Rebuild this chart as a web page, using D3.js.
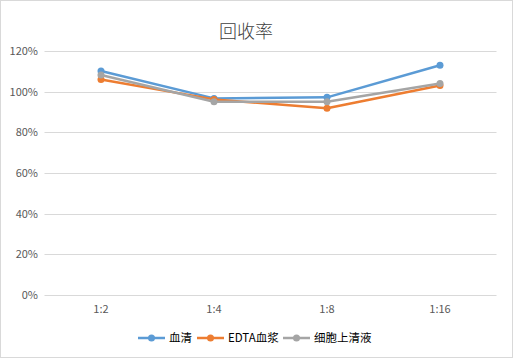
<!DOCTYPE html>
<html><head><meta charset="utf-8">
<script src="https://cdn.jsdelivr.net/npm/d3@7"></script>
<style>body{margin:0;background:#fff}svg{display:block}</style>
</head><body><svg id="c" width="513" height="358"></svg>
<script>
const categories = ["1:2","1:4","1:8","1:16"];
const seriesNames = ["血清","EDTA血浆","细胞上清液"];
const serum = [1.102, 0.967, 0.972, 1.13];
const edta = [1.06, 0.962, 0.918, 1.03];
const supernatant = [1.082, 0.95, 0.95, 1.04];
const yTicks = [0, 0.2, 0.4, 0.6, 0.8, 1.0, 1.2];
const colors = ["#5B9BD5","#ED7D31","#A5A5A5"];
const allSeries = [serum, edta, supernatant];

const svg = d3.select("#c");
const font = "'Microsoft YaHei','Noto Sans CJK SC',sans-serif";
svg.append("rect").attr("x",0.5).attr("y",0.5).attr("width",512).attr("height",357)
  .attr("fill","#fff").attr("stroke","#D9D9D9");
svg.append("text").attr("x",246).attr("y",38).attr("text-anchor","middle")
  .attr("font-family",font).attr("font-size",18).attr("font-weight",300).attr("fill","#404040").text("回收率");

const x = d3.scaleBand().domain(categories).range([44.5,496.5]);
const y = d3.scaleLinear().domain([0,1.2]).range([295,51]);

const g = svg.append("g");
g.selectAll("line.grid").data(yTicks).join("line")
  .attr("x1",44.5).attr("x2",496.5).attr("y1",d=>Math.round(y(d))+0.5).attr("y2",d=>Math.round(y(d))+0.5)
  .attr("stroke","#D9D9D9").attr("stroke-width",1);
g.selectAll("text.yl").data(yTicks).join("text")
  .attr("x",38).attr("y",d=>y(d)+4).attr("text-anchor","end")
  .attr("font-family",font).attr("font-size",11).attr("fill","#595959")
  .text(d=>d3.format(".0%")(d));
g.selectAll("text.xl").data(categories).join("text")
  .attr("x",d=>x(d)+x.bandwidth()/2).attr("y",313).attr("text-anchor","middle")
  .attr("font-family",font).attr("font-size",11).attr("fill","#595959").text(d=>d);

const line = d3.line().x((d,i)=>x(categories[i])+x.bandwidth()/2).y(d=>y(d));
allSeries.forEach((s,k)=>{
  g.append("path").attr("d",line(s)).attr("fill","none").attr("stroke",colors[k])
    .attr("stroke-width",2.5).attr("stroke-linejoin","round").attr("stroke-linecap","round");
  g.selectAll(null).data(s).join("circle")
    .attr("cx",(d,i)=>x(categories[i])+x.bandwidth()/2).attr("cy",d=>y(d)).attr("r",3.5)
    .attr("fill",colors[k]);
});

// legend
const legX = [138, 197, 283];
const lg = svg.append("g");
seriesNames.forEach((n,k)=>{
  const lx = legX[k], ly = 338;
  lg.append("line").attr("x1",lx).attr("x2",lx+27).attr("y1",ly).attr("y2",ly)
    .attr("stroke",colors[k]).attr("stroke-width",2.5);
  lg.append("circle").attr("cx",lx+13.5).attr("cy",ly).attr("r",3.5).attr("fill",colors[k]);
  lg.append("text").attr("x",lx+31).attr("y",ly+4).attr("font-family",font)
    .attr("font-size",11.5).attr("fill","#000").text(n);
});
</script></body></html>
